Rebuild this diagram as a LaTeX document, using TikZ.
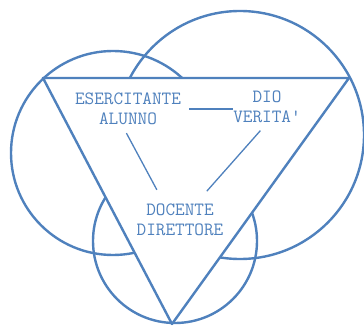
\documentclass[tikz,border=0pt]{standalone}
\usepackage{fontspec}
\definecolor{trisky}{HTML}{4F81BD}

\begin{document}
\begin{tikzpicture}[x=1pt,y=1pt]
\tikzstyle{every node}+=[inner sep=0pt]
\tikzstyle{ring}=[trisky, line width=2.4pt]
\tikzstyle{word}=[text=trisky, font=\ttfamily\fontsize{18.7}{20}\selectfont, align=center]
\tikzstyle{link}=[trisky, line width=1.3pt]
\useasboundingbox (0,0) rectangle (364,-326);
\draw [ring] (113,-153) circle (102);
\draw [ring] (240,-135) circle (124);
\draw [ring] (175,-241) circle (82);
\draw [ring, fill=white, line join=round] (43,-78) -- (349,-78) -- (172,-324) -- cycle;
\node [word] (ea) at (128,-109) {ESERCITANTE\\ALUNNO};
\node [word] (dv) at (267,-107) {DIO\\VERITA'};
\node [word] (dd) at (180,-220) {DOCENTE\\DIRETTORE};
\draw [link, shorten <=8pt] (ea.east) -- (ea.east -| dv.west);
\draw [link, shorten <=9pt, shorten >=16pt] (ea.250) -- (dd.134);
\draw [link, shorten <=10pt, shorten >=17pt] (dv.south) -- (dd.46);
\end{tikzpicture}
\end{document}
